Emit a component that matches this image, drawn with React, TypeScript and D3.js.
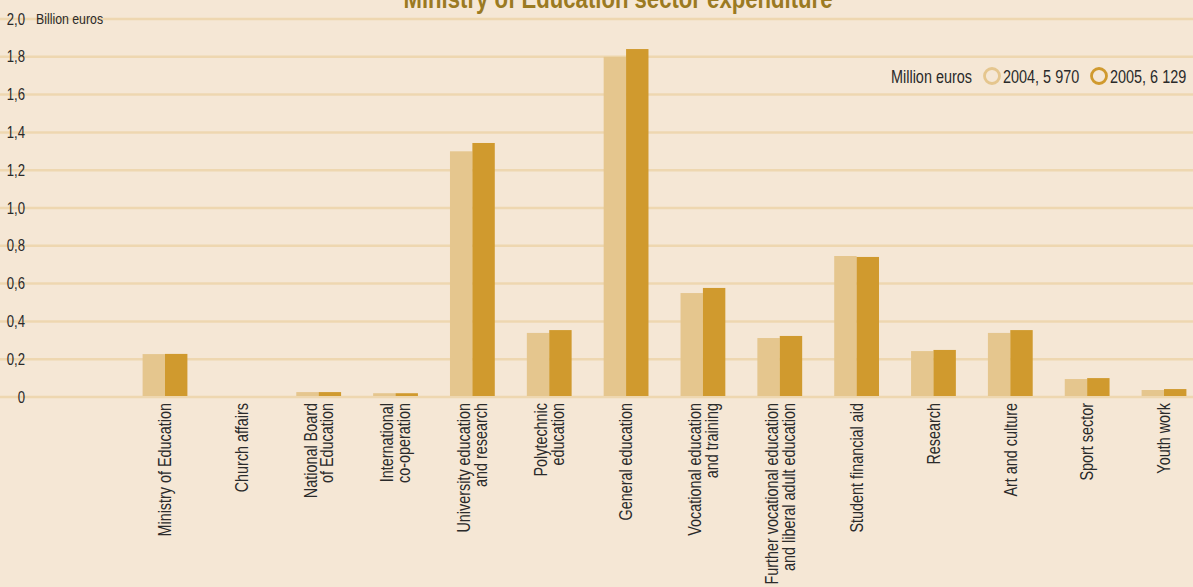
import React from "react";
import * as d3 from "d3";

const categories: string[][] = [
  ["Ministry of Education"],
  ["Church affairs"],
  ["National Board", "of Education"],
  ["International", "co-operation"],
  ["University education", "and research"],
  ["Polytechnic", "education"],
  ["General education"],
  ["Vocational education", "and training"],
  ["Further vocational education", "and liberal adult education"],
  ["Student financial aid"],
  ["Research"],
  ["Art and culture"],
  ["Sport sector"],
  ["Youth work"],
];
const values2004 = [0.227, 0.005, 0.026, 0.02, 1.30, 0.339, 1.80, 0.55, 0.312, 0.746, 0.243, 0.339, 0.095, 0.037];
const values2005 = [0.228, 0.005, 0.026, 0.02, 1.344, 0.354, 1.841, 0.577, 0.323, 0.741, 0.249, 0.354, 0.10, 0.042];
const yTicks = [0, 0.2, 0.4, 0.6, 0.8, 1.0, 1.2, 1.4, 1.6, 1.8, 2.0];
const seriesNames = ["2004", "2005"];
const legendLabels = ["2004, 5 970", "2005, 6 129"];

const W = 1193;
const H = 587;
const BG = "#f5e7d5";
const GRID = "#eed7b0";
const COLORS = ["#e5c68e", "#d09a2e"];
const FONT = "'Liberation Sans', Arial, sans-serif";
const INK = "#2a2a2a";
const SX = 0.8;

function CText(props: {
  x: number;
  y: number;
  size: number;
  anchor?: "start" | "middle" | "end";
  fill?: string;
  weight?: string;
  sx?: number;
  children: React.ReactNode;
}) {
  const { x, y, size, anchor = "start", fill = INK, weight, sx = SX, children } = props;
  return (
    <g transform={`translate(${x},${y}) scale(${sx},1)`}>
      <text x={0} y={0} dy="0.35em" textAnchor={anchor} fontSize={size} fill={fill} fontWeight={weight}>
        {children}
      </text>
    </g>
  );
}

export default function App() {
  const keys = categories.map((c) => c.join(" "));
  const x = d3.scalePoint<string>().domain(keys).range([165, 1164]);
  const xs = d3.scaleBand<string>().domain(seriesNames).range([-22.4, 22.4]);
  const y = d3.scaleLinear().domain([0, 2]).range([397, 19]);
  const fmt = (v: number) => (v === 0 ? "0" : v.toFixed(1).replace(".", ","));
  const series = [values2004, values2005];
  const lh = 17;

  return (
    <svg width={W} height={H} style={{ position: "absolute", left: 0, top: 0, background: BG, fontFamily: FONT }}>
      <rect x={0} y={0} width={W} height={H} fill={BG} />
      <CText x={618} y={-1} size={27} anchor="middle" fill="#9b7a22" weight="bold" sx={0.82}>
        Ministry of Education sector expenditure
      </CText>
      {yTicks.map((t) => (
        <line key={t} x1={0} x2={W} y1={y(t)} y2={y(t)} stroke={GRID} strokeWidth={2.5} />
      ))}
      {series.map((vals, si) =>
        vals.map((v, i) => (
          <rect
            key={si + "-" + i}
            x={(x(keys[i]) as number) + (xs(seriesNames[si]) as number)}
            y={y(v)}
            width={xs.bandwidth()}
            height={Math.max(0, y(0) - y(v) - 1)}
            fill={COLORS[si]}
          />
        ))
      )}
      {yTicks.map((t) => (
        <CText key={"l" + t} x={25} y={y(t)} size={16} anchor="end" sx={0.82}>
          {fmt(t)}
        </CText>
      ))}
      <CText x={36} y={y(2)} size={14} sx={0.88}>
        Billion euros
      </CText>
      {categories.map((lines, i) => (
        <g key={"c" + i} transform={`translate(${x(keys[i])},403) rotate(-90) scale(${SX},1)`}>
          {lines.map((ln, li) => (
            <text
              key={li}
              x={0}
              y={(li - (lines.length - 1) / 2) * lh}
              dy="0.35em"
              textAnchor="end"
              fontSize={18}
              fill={INK}
            >
              {ln}
            </text>
          ))}
        </g>
      ))}
      <CText x={972} y={76} size={19} anchor="end" sx={0.76}>Million euros</CText>
      <circle cx={992} cy={76} r={7.5} fill="none" stroke={COLORS[0]} strokeWidth={2.8} />
      <CText x={1003} y={76} size={19} sx={0.76}>{legendLabels[0]}</CText>
      <circle cx={1099} cy={76} r={7.5} fill="none" stroke={COLORS[1]} strokeWidth={2.8} />
      <CText x={1110} y={76} size={19} sx={0.76}>{legendLabels[1]}</CText>
    </svg>
  );
}
